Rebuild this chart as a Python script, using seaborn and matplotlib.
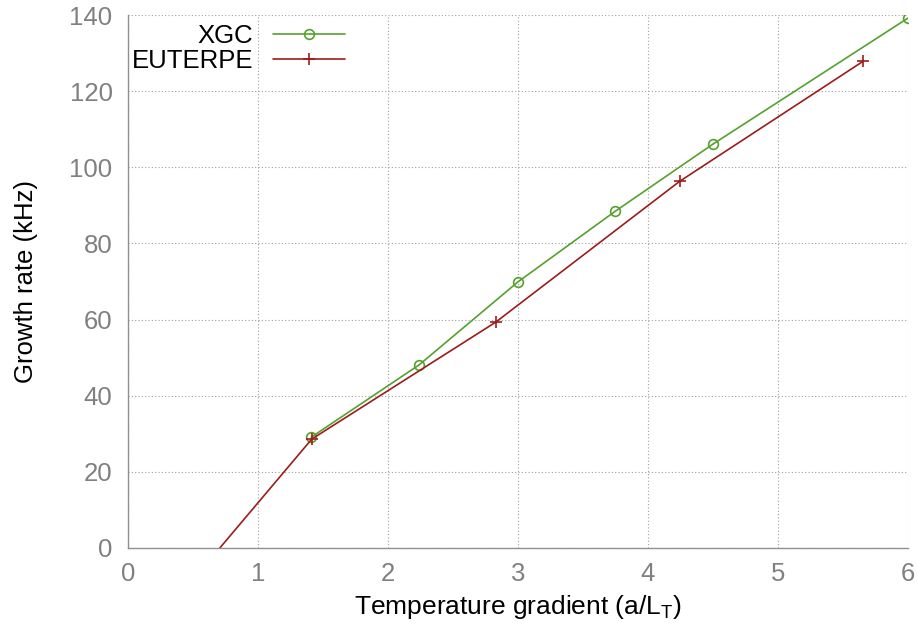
import numpy as np
import pandas as pd
import matplotlib
matplotlib.use("Agg")
import matplotlib.pyplot as plt
import seaborn as sns

sns.set_style("white")
plt.rcParams['font.family'] = ['Liberation Sans', 'DejaVu Sans']
plt.rcParams['text.color'] = 'black'
plt.rcParams['axes.labelcolor'] = 'black'

# data
xgc_x = [1.41, 2.24, 3.0, 3.75, 4.5, 6.0]
xgc_y = [29.1, 48.1, 69.9, 88.5, 106.1, 139.2]
eut_x = [0.707, 1.414, 2.828, 4.243, 5.657]
eut_y = [0.0, 28.6, 59.3, 96.3, 127.9]

xticks = [0, 1, 2, 3, 4, 5, 6]
yticks = [0, 20, 40, 60, 80, 100, 120, 140]

df_xgc = pd.DataFrame({'x': xgc_x, 'y': xgc_y})
df_eut = pd.DataFrame({'x': eut_x, 'y': eut_y})

fig = plt.figure(figsize=(9.2, 6.28), dpi=100)
ax = fig.add_axes([0.139, 0.1274, 0.848, 0.8487])

green = '#56a02e'
red = '#9c1c1c'

sns.lineplot(x='x', y='y', data=df_xgc, ax=ax, color=green, lw=1.2,
             marker='o', markersize=7, markerfacecolor='none',
             markeredgecolor=green, markeredgewidth=1.2, label='XGC')
sns.lineplot(x='x', y='y', data=df_eut, ax=ax, color=red, lw=1.2,
             marker='+', markersize=8, markeredgecolor=red, markeredgewidth=1.2,
             markevery=list(range(1, len(eut_x))), label='EUTERPE')

ax.set_xlim(0, 6)
ax.set_ylim(0, 140)
ax.set_xticks(xticks)
ax.set_yticks(yticks)
ax.grid(True, color='#a0a0a0', linestyle=(0, (1, 2)), lw=0.8)
for s in ['top', 'right']:
    ax.spines[s].set_visible(False)
for s in ['left', 'bottom']:
    ax.spines[s].set_color('#909090')
    ax.spines[s].set_linewidth(1.0)
ax.tick_params(direction='in', length=5, color='#909090', labelcolor='#808080',
               labelsize=18.5)
ax.tick_params(axis='y', pad=11)
ax.tick_params(axis='x', pad=10)

ax.set_xlabel('Temperature gradient (a/L$_\\mathregular{T}$)', fontsize=19, labelpad=5)
ax.set_ylabel('Growth rate (kHz)', fontsize=18.5, labelpad=23)

leg = ax.legend(loc='upper left', frameon=False, markerfirst=False, fontsize=18.5,
                handlelength=2.8, handletextpad=0.75, borderaxespad=0.0,
                borderpad=0.1, labelspacing=0.05, bbox_to_anchor=(0.002, 0.988))
for t in leg.get_texts():
    t.set_ha('right')
    t.set_color('black')
leg._legend_box.align = 'right'

fig.savefig('out.png', dpi=100)
